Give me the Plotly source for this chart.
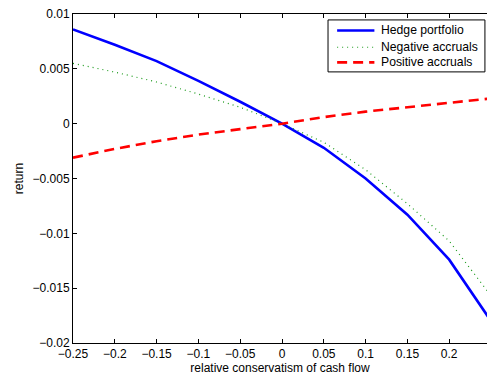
import plotly.graph_objects as go

# data
x_vals = [-0.25, -0.2, -0.15, -0.1, -0.05, 0.0, 0.05, 0.1, 0.15, 0.2, 0.25]
hedge = [0.0086, 0.0072, 0.0057, 0.0039, 0.0020, 0.0, -0.0022, -0.0050, -0.0083, -0.0124, -0.0180]
neg_accruals = [0.0055, 0.0047, 0.0038, 0.0027, 0.0015, 0.0, -0.0017, -0.0042, -0.0073, -0.0107, -0.0157]
pos_accruals = [-0.0031, -0.0023, -0.0016, -0.0010, -0.0005, 0.0, 0.0006, 0.0011, 0.0015, 0.0019, 0.0023]
series_names = ["Hedge portfolio", "Negative accruals", "Positive accruals"]

x_ticks = [-0.25, -0.2, -0.15, -0.1, -0.05, 0, 0.05, 0.1, 0.15, 0.2]
x_ticktext = ["\u22120.25", "\u22120.2", "\u22120.15", "\u22120.1", "\u22120.05", "0", "0.05", "0.1", "0.15", "0.2"]
y_ticks = [0.01, 0.005, 0, -0.005, -0.01, -0.015, -0.02]
y_ticktext = ["0.01", "0.005", "0", "\u22120.005", "\u22120.01", "\u22120.015", "\u22120.02"]

font_family = "Liberation Sans, Arial, sans-serif"
line_styles = [
    dict(color="#0000ff", width=2.6),
    dict(color="#1a9a1a", width=1.2, dash="1px,4px"),
    dict(color="#ff0000", width=2.6, dash="10px,6px"),
]

fig = go.Figure()
for name, ys, st in zip(series_names, [hedge, neg_accruals, pos_accruals], line_styles):
    fig.add_trace(go.Scatter(x=x_vals, y=ys, mode="lines", name=name, line=st, showlegend=False))

# custom legend box (MATLAB-style compact legend)
shapes = [dict(type="rect", xref="paper", yref="paper", x0=0.616, x1=0.995, y0=0.824, y1=0.982,
               line=dict(color="black", width=1), fillcolor="white", layer="above")]
annotations = []
row_y = [0.950, 0.899, 0.853]
for name, st, yy in zip(series_names, line_styles, row_y):
    shapes.append(dict(type="line", xref="paper", yref="paper", x0=0.638, x1=0.728, y0=yy, y1=yy,
                       line=st, layer="above"))
    annotations.append(dict(xref="paper", yref="paper", x=0.738, y=yy, text=name, showarrow=False,
                            xanchor="left", yanchor="middle", font=dict(size=12.2, family=font_family)))

fig.update_layout(
    width=487, height=379,
    margin=dict(l=73, r=0, t=14, b=36),
    paper_bgcolor="white", plot_bgcolor="white",
    font=dict(family=font_family, size=12, color="black"),
    showlegend=False,
    shapes=shapes, annotations=annotations,
)
fig.update_xaxes(
    range=[-0.25, 0.2452], tickvals=x_ticks, ticktext=x_ticktext,
    showgrid=False, zeroline=False, showline=True, linecolor="black", linewidth=1,
    ticks="inside", ticklen=4, tickcolor="black", mirror="ticks",
    title=dict(text="relative conservatism of cash flow", standoff=2, font=dict(size=12)),
    tickfont=dict(size=12),
)
fig.update_yaxes(
    range=[-0.02, 0.01], tickvals=y_ticks, ticktext=y_ticktext,
    showgrid=False, zeroline=False, showline=True, linecolor="black", linewidth=1,
    ticks="inside", ticklen=4, tickcolor="black",
    title=dict(text="return", standoff=6, font=dict(size=12)),
    tickfont=dict(size=12),
)

fig.write_html("out.html")
